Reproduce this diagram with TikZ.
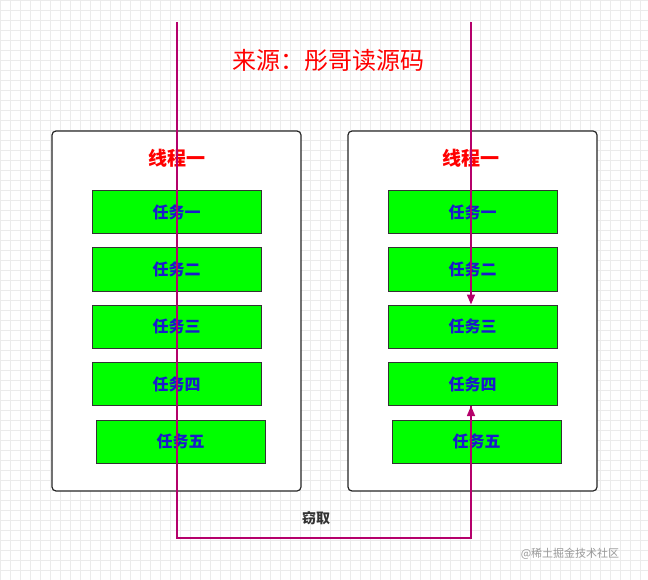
\documentclass[tikz,border=0pt]{standalone}
\usepackage{fontspec}
\setmainfont{Noto Sans CJK SC}
\usetikzlibrary{arrows.meta}
\definecolor{mag}{HTML}{B5006B}
\definecolor{grn}{HTML}{00FF00}
\definecolor{tblue}{HTML}{1A1ACC}
\begin{document}
\begin{tikzpicture}[x=1pt,y=-1pt,
  cont/.style={draw=black!85,line width=1.2pt,rounded corners=4pt,fill=white},
  task/.style={draw=black!80,line width=1pt,fill=grn,minimum width=169pt,minimum height=43pt,inner sep=0pt,text=tblue,font=\bfseries\fontsize{16}{16}\selectfont},
  ttl/.style={text=red,font=\bfseries\fontsize{19}{19}\selectfont},
  link/.style={draw=mag,line width=1.5pt},
  tip/.style={-{Triangle[length=10pt,width=8pt]}}]
\useasboundingbox (0,0) rectangle (648,580);
\fill[white] (0,0) rectangle (648,580);
\draw[black!8,step=10pt,line width=0.4pt] (0,0) grid (648,580);
\node[cont,minimum width=249pt,minimum height=360pt] (L) at (176.5,311) {};
\node[cont,minimum width=249pt,minimum height=360pt] (R) at (472.5,311) {};
\node[ttl] (lt) at (177,158) {线程一};
\node[ttl] (rt) at (471,158) {线程一};
\foreach \s/\x in {l/176.5,r/472.5}{
  \node[task] (\s1) at (\x,212.5) {任务一};
  \node[task] (\s2) at (\x,269.5) {任务二};
  \node[task] (\s3) at (\x,326.5) {任务三};
  \node[task] (\s4) at (\x,384) {任务四};
}
\node[task] (l5) at (180.5,441.5) {任务五};
\node[task] (r5) at (476.5,441.5) {任务五};
\coordinate (a) at (177,22);
\coordinate (b) at (177,538);
\coordinate (c) at (471,538);
\coordinate (d) at (471,22);
\draw[link] (a) -- (b) -- (c) -- (r4.south -| c);
\draw[link,tip] (r5.north -| c) -- (r4.south -| c);
\draw[link,tip] (d) -- (r3.north -| d);
\node[text=red,font=\fontsize{24}{24}\selectfont] (src) at (328,60) {来源：彤哥读源码};
\node[text=black!80,font=\bfseries\fontsize{14}{14}\selectfont] (st) at (316,518) {窃取};
\node[text=black!40,font=\fontsize{11}{11}\selectfont] (wm) at (570,554) {@稀土掘金技术社区};
\end{tikzpicture}
\end{document}
